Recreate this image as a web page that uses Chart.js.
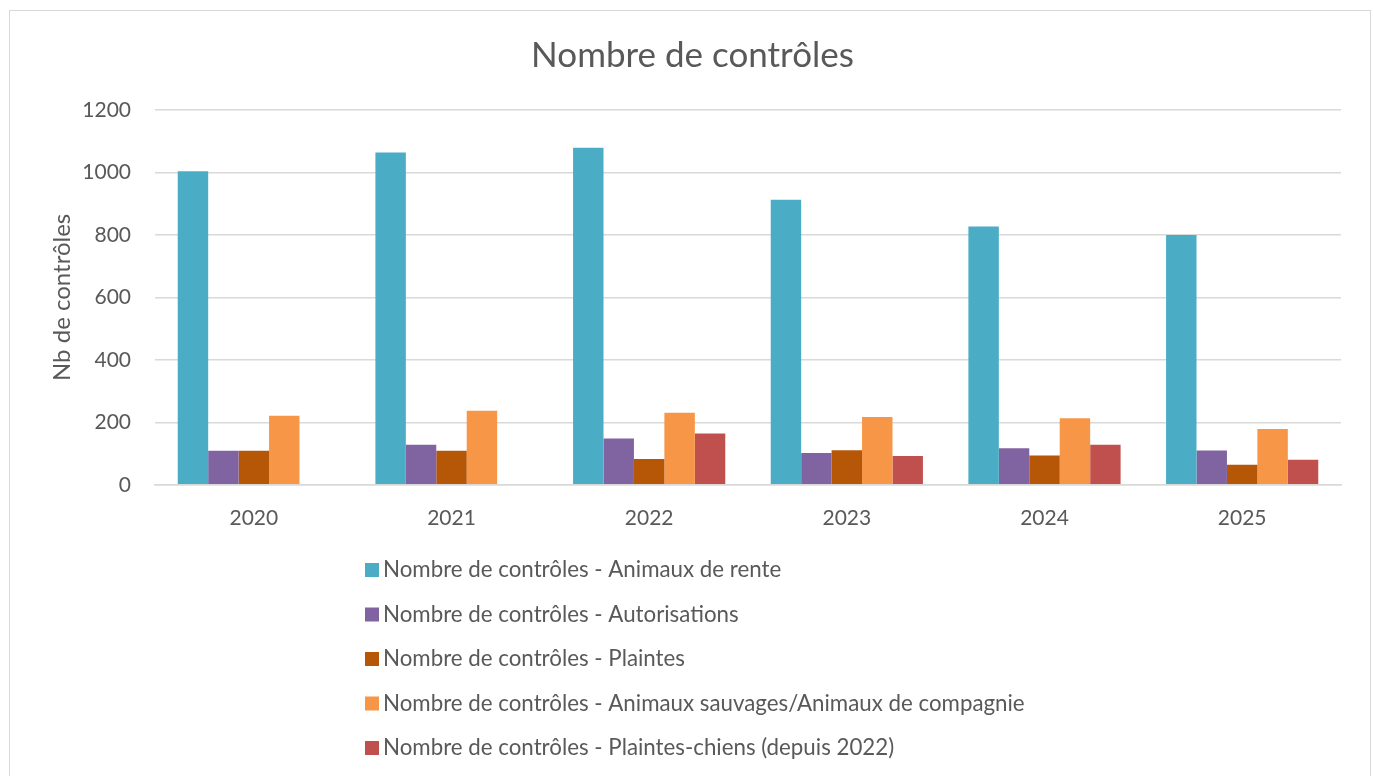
<!DOCTYPE html>
<html>
<head>
<meta charset="utf-8">
<title>Nombre de contrôles</title>
<script src="https://cdn.jsdelivr.net/npm/chart.js@4"></script>
<style>
  body { margin: 0; background: #fff; overflow: hidden; }
  #frame { position: absolute; left: 9px; top: 10px; width: 1360px; height: 800px; border: 1px solid #d9d9d9; }
  #chartNb { position: absolute; left: 0; top: 0; }
</style>
</head>
<body>
<div id="frame"></div>
<canvas id="chartNb" width="1373" height="776"></canvas>
<script>
// valeurs
var years = ['2020', '2021', '2022', '2023', '2024', '2025'];
var rente = [1004, 1064, 1079, 913, 827, 800];
var autorisations = [109, 128, 148, 102, 117, 110];
var plaintes = [109, 109, 83, 111, 94, 64];
var sauvages = [221, 237, 231, 217, 213, 179];
var chiens = [null, null, 164, 92, 128, 80];

var labels = [
  'Nombre de contrôles - Animaux de rente',
  'Nombre de contrôles - Autorisations',
  'Nombre de contrôles - Plaintes',
  'Nombre de contrôles - Animaux sauvages/Animaux de compagnie',
  'Nombre de contrôles - Plaintes-chiens (depuis 2022)'
];
var colors = ['#4bacc6', '#8064a2', '#b65708', '#f79646', '#c0504d'];
var values = [rente, autorisations, plaintes, sauvages, chiens];

var textColor = '#595959';
var fontName = 'Lato, "Open Sans", sans-serif';

var datasets = [];
for (var i = 0; i < labels.length; i++) {
  datasets.push({
    label: labels[i],
    data: values[i],
    backgroundColor: colors[i],
    borderWidth: 0,
    categoryPercentage: 0.77,
    barPercentage: 1.0
  });
}

// legende verticale sous le graphique, comme dans Excel
var listLegend = {
  id: 'listLegend',
  afterDraw: function(chart) {
    var ctx = chart.ctx;
    var x0 = 365;
    var y0 = chart.scales.x.bottom + 26;
    var step = 44.5;
    ctx.save();
    ctx.font = '22.3px ' + fontName;
    ctx.textBaseline = 'middle';
    ctx.textAlign = 'left';
    chart.data.datasets.forEach(function(ds, i) {
      var y = y0 + i * step;
      ctx.fillStyle = ds.backgroundColor;
      ctx.fillRect(x0, y - 7, 14, 14);
      ctx.fillStyle = textColor;
      ctx.fillText(ds.label, x0 + 18, y);
    });
    ctx.restore();
  }
};

var config = {
  type: 'bar',
  data: {
    labels: years,
    datasets: datasets
  },
  options: {
    responsive: false,
    animation: false,
    layout: {
      padding: { left: 44, right: 32, top: 10, bottom: 232 }
    },
    plugins: {
      legend: { display: false },
      tooltip: { enabled: false },
      title: {
        display: true,
        text: 'Nombre de contrôles',
        color: textColor,
        font: { family: fontName, size: 35, weight: 'normal' },
        padding: { top: 25, bottom: 33 }
      }
    },
    scales: {
      x: {
        grid: { display: false },
        border: { display: true, color: '#d9d9d9', width: 1.5 },
        ticks: {
          color: textColor,
          padding: 13,
          font: { family: fontName, size: 21 }
        }
      },
      y: {
        min: 0,
        max: 1200,
        afterFit: function(scale) { scale.width = 111; },
        ticks: {
          stepSize: 200,
          color: textColor,
          padding: 24,
          font: { family: fontName, size: 21 },
          callback: function(v) { return String(v); }
        },
        grid: { color: '#d9d9d9', lineWidth: 1.5, drawTicks: false },
        border: { display: false },
        title: {
          display: true,
          text: 'Nb de contrôles',
          color: textColor,
          padding: { top: 4, bottom: 0 },
          font: { family: fontName, size: 24 }
        }
      }
    }
  },
  plugins: [listLegend]
};

new Chart(document.getElementById('chartNb'), config);
</script>
</body>
</html>
